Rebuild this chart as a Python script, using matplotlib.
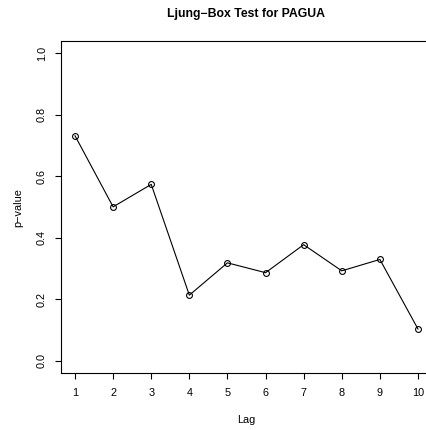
import numpy as np
import matplotlib
matplotlib.use("Agg")
import matplotlib.pyplot as plt

plt.rcParams['font.family'] = ['Liberation Sans', 'DejaVu Sans']

# p-values of the Ljung-Box test
lags = [1, 2, 3, 4, 5, 6, 7, 8, 9, 10]
p_values = [0.732, 0.501, 0.574, 0.214, 0.319, 0.287, 0.378, 0.293, 0.330, 0.104]
y_ticks = [0.0, 0.2, 0.4, 0.6, 0.8, 1.0]

fig = plt.figure(figsize=(4.26, 4.30), dpi=100)
# R-style plot region; right edge falls just outside the image
ax = fig.add_axes([61.3 / 426, 1 - 373.3 / 430, 370.4 / 426, 332.3 / 430])

ax.plot(lags, p_values, color='black', linewidth=0.8,
        marker='o', markersize=4.2, markerfacecolor='none',
        markeredgecolor='black', markeredgewidth=0.8)

# 4% padding like R's default
ax.set_xlim(1 - 0.36, 10 + 0.36)
ax.set_ylim(-0.04, 1.04)

ax.set_xticks(lags)
ax.set_xticklabels([str(l) for l in lags])
ax.set_yticks(y_ticks)
ax.set_yticklabels([f"{v:.1f}" for v in y_ticks], rotation=90, va='center')

ax.tick_params(axis='both', direction='out', length=4.3, width=0.8,
               labelsize=7.8, color='black')
ax.tick_params(axis='x', pad=6)
ax.tick_params(axis='y', pad=6)

for side in ['left', 'bottom', 'top']:
    ax.spines[side].set_linewidth(0.8)
    ax.spines[side].set_color('black')
ax.spines['right'].set_visible(False)

ax.set_xlabel("Lag", fontsize=7.8)
ax.xaxis.set_label_coords(0.5, -46.7 / 332.3)
ax.xaxis.label.set_va('center')

ax.set_ylabel("p\u2212value", fontsize=7.8)
ax.yaxis.set_label_coords(-43.3 / 370.4, 0.5)
ax.yaxis.label.set_va('center')

ax.set_title("Ljung\u2212Box Test for PAGUA", fontsize=8.8, fontweight='bold',
             y=1 + 26.5 / 332.3, va='center', pad=0)

fig.savefig("out.png", dpi=100)
